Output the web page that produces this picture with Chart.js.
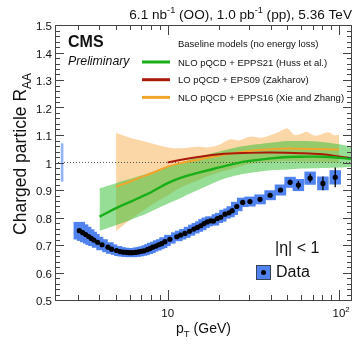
<!DOCTYPE html>
<html>
<head>
<meta charset="utf-8">
<script src="https://cdn.jsdelivr.net/npm/chart.js@4.4.1/dist/chart.umd.min.js"></script>
<style>
  html, body { margin: 0; padding: 0; background: #fff; }
</style>
</head>
<body>
<canvas id="raa" width="358" height="351"></canvas>
<script>
// measured OO charged particle R_AA
const dataPt = [3.05, 3.19, 3.32, 3.46, 3.58, 3.71, 3.9, 4.14, 4.48, 4.71, 5.03, 5.27, 5.51, 5.77, 5.98, 6.2,
  6.48, 6.74, 7.01, 7.27, 7.6, 7.88, 8.17, 8.54, 8.86, 9.22, 9.64, 10.3, 11.3, 11.9, 12.6, 13.4, 14.2, 14.9,
  15.6, 16.3, 17.0, 17.8, 18.5, 19.5, 20.4, 21.6, 22.8, 23.8, 25.3, 27.4, 30.2, 34.6, 39.6, 45.5, 51.8, 57.9,
  67.8, 80.5, 95.0];
const dataRaa = [0.752, 0.745, 0.738, 0.731, 0.724, 0.718, 0.71, 0.701, 0.692, 0.685, 0.68, 0.676, 0.674, 0.673,
  0.672, 0.672, 0.673, 0.675, 0.677, 0.679, 0.683, 0.687, 0.692, 0.696, 0.701, 0.705, 0.712, 0.721, 0.73, 0.736,
  0.742, 0.75, 0.758, 0.764, 0.77, 0.778, 0.784, 0.788, 0.787, 0.796, 0.801, 0.812, 0.817, 0.825, 0.84, 0.855,
  0.858, 0.866, 0.881, 0.9, 0.928, 0.918, 0.943, 0.924, 0.946];
const dataStat = [0.002, 0.002, 0.002, 0.002, 0.002, 0.002, 0.002, 0.002, 0.002, 0.002, 0.002, 0.002, 0.002,
  0.002, 0.002, 0.002, 0.002, 0.002, 0.002, 0.002, 0.002, 0.002, 0.002, 0.002, 0.002, 0.002, 0.002, 0.002, 0.002,
  0.002, 0.002, 0.002, 0.002, 0.002, 0.002, 0.002, 0.002, 0.002, 0.003, 0.003, 0.003, 0.003, 0.003, 0.003, 0.004,
  0.004, 0.005, 0.005, 0.006, 0.008, 0.01, 0.015, 0.016, 0.025, 0.036];
const dataSys = [0.032, 0.03, 0.028, 0.026, 0.024, 0.022, 0.02, 0.02, 0.018, 0.017, 0.016, 0.016, 0.016, 0.016,
  0.016, 0.016, 0.016, 0.016, 0.016, 0.016, 0.016, 0.016, 0.016, 0.016, 0.016, 0.016, 0.016, 0.016, 0.016, 0.016,
  0.016, 0.016, 0.016, 0.016, 0.016, 0.016, 0.016, 0.016, 0.016, 0.016, 0.016, 0.016, 0.016, 0.016, 0.017, 0.017,
  0.018, 0.018, 0.018, 0.02, 0.02, 0.022, 0.024, 0.025, 0.026];
const normPt = 2.42;
const normUnc = 0.07;

// NLO pQCD + EPPS21 (Huss et al.)
const hussPt = [4, 5, 6, 7, 8, 10, 12, 15, 20, 25, 30, 40, 50, 60, 80, 100, 120];
const hussMid = [0.803, 0.834, 0.856, 0.875, 0.892, 0.925, 0.945, 0.962, 0.982, 0.997, 1.006, 1.015, 1.02, 1.021, 1.021, 1.017, 1.012];
const hussLo = [0.752, 0.772, 0.79, 0.806, 0.822, 0.85, 0.872, 0.9, 0.935, 0.953, 0.962, 0.972, 0.975, 0.978, 0.98, 0.982, 0.985];
const hussHi = [0.906, 0.925, 0.94, 0.953, 0.965, 0.985, 1.0, 1.02, 1.04, 1.055, 1.063, 1.072, 1.078, 1.078, 1.075, 1.066, 1.057];

// LO pQCD + EPS09 (Zakharov)
const zakhPt = [10, 12, 15, 20, 30, 40, 60, 80, 100, 120];
const zakhMid = [1.0, 1.01, 1.02, 1.03, 1.035, 1.036, 1.034, 1.03, 1.022, 1.015];

// NLO pQCD + EPPS16 (Xie and Zhang)
const xiePt = [5, 6, 7, 8, 10, 12, 15, 17, 20, 23, 26, 30, 35, 40, 45, 50, 55, 60, 65, 70, 75, 80, 87, 93, 100];
const xieMid = [0.912, 0.93, 0.947, 0.96, 0.985, 0.998, 1.01, 1.017, 1.025, 1.032, 1.037, 1.042, 1.046, 1.048,
  1.05, 1.051, 1.05, 1.05, 1.05, 1.049, 1.049, 1.048, 1.048, 1.047, 1.047];
const xieLo = [0.75, 0.79, 0.82, 0.845, 0.88, 0.91, 0.935, 0.95, 0.965, 0.975, 0.985, 0.995, 1.0, 1.003, 1.005,
  1.005, 1.005, 1.004, 1.004, 1.003, 1.003, 1.002, 1.002, 1.0, 1.0];
const xieHi = [1.108, 1.09, 1.08, 1.07, 1.055, 1.052, 1.057, 1.055, 1.065, 1.084, 1.08, 1.094, 1.09, 1.1, 1.112,
  1.124, 1.1, 1.105, 1.112, 1.1, 1.098, 1.105, 1.11, 1.1, 1.1];

const yTicks = [0.5, 0.6, 0.7, 0.8, 0.9, 1.0, 1.1, 1.2, 1.3, 1.4, 1.5];
const yTickLabels = ['0.5', '0.6', '0.7', '0.8', '0.9', '1', '1.1', '1.2', '1.3', '1.4', '1.5'];
const xTicks = [10, 100];
const xTickLabels = [['10', ''], ['10', '2']];
const xMinorTicks = [3, 4, 5, 6, 7, 8, 9, 20, 30, 40, 50, 60, 70, 80, 90];

const legendNames = ['NLO pQCD + EPPS21 (Huss et al.)', 'LO pQCD + EPS09 (Zakharov)', 'NLO pQCD + EPPS16 (Xie and Zhang)'];

const GREEN = 'rgb(25,175,25)';
const RED = 'rgb(170,25,10)';
const ORANGE = 'rgb(242,165,45)';
const BLUE = 'rgb(80,130,240)';
const FONT = '"Liberation Sans", Arial, Helvetica, sans-serif';

const pts = (xs, ys) => xs.map((x, i) => ({ x: x, y: ys[i] }));

function setFont(ctx, size, style) {
  ctx.font = (style || '') + ' ' + size + 'px ' + FONT;
}

// parts: [text, 0 normal | 1 superscript | -1 subscript]
function richText(ctx, parts, x, y, size, align, style) {
  let w = 0;
  parts.forEach(p => {
    setFont(ctx, p[1] ? size * 0.68 : size, style);
    w += ctx.measureText(p[0]).width;
  });
  let cx = align === 'right' ? x - w : align === 'center' ? x - w / 2 : x;
  ctx.textAlign = 'left';
  ctx.textBaseline = 'alphabetic';
  parts.forEach(p => {
    setFont(ctx, p[1] ? size * 0.68 : size, style);
    const dy = p[1] === 1 ? -size * 0.42 : p[1] === -1 ? size * 0.3 : 0;
    ctx.fillText(p[0], cx, y + dy);
    cx += ctx.measureText(p[0]).width;
  });
}

const decor = {
  id: 'decor',
  beforeDatasetDraw(chart, args) {
    const ctx = chart.ctx, xs = chart.scales.x, ys = chart.scales.y, ca = chart.chartArea;
    if (args.index === 3) {
      // reference line at unity
      ctx.save();
      ctx.strokeStyle = '#555';
      ctx.lineWidth = 1;
      ctx.setLineDash([1, 2]);
      ctx.beginPath();
      ctx.moveTo(ca.left, ys.getPixelForValue(1));
      ctx.lineTo(ca.right, ys.getPixelForValue(1));
      ctx.stroke();
      ctx.restore();
    }
    if (args.index === 0) {
      ctx.save();
      // global normalisation uncertainty
      ctx.fillStyle = 'rgb(150,180,245)';
      const nx = xs.getPixelForValue(normPt);
      ctx.fillRect(nx - 1.3, ys.getPixelForValue(1 + normUnc), 2.6,
        ys.getPixelForValue(1 - normUnc) - ys.getPixelForValue(1 + normUnc));
      // systematic boxes
      ctx.fillStyle = BLUE;
      dataPt.forEach((p, i) => {
        const x0 = xs.getPixelForValue(p / 1.08), x1 = xs.getPixelForValue(p * 1.08);
        const y0 = ys.getPixelForValue(dataRaa[i] + dataSys[i]), y1 = ys.getPixelForValue(dataRaa[i] - dataSys[i]);
        ctx.fillRect(x0, y0, x1 - x0, y1 - y0);
      });
      // statistical error bars
      ctx.strokeStyle = '#000';
      ctx.lineWidth = 1.3;
      dataPt.forEach((p, i) => {
        const x = xs.getPixelForValue(p);
        ctx.beginPath();
        ctx.moveTo(x, ys.getPixelForValue(dataRaa[i] + dataStat[i]));
        ctx.lineTo(x, ys.getPixelForValue(dataRaa[i] - dataStat[i]));
        ctx.stroke();
      });
      ctx.restore();
    }
  },
  afterDraw(chart) {
    const ctx = chart.ctx, xs = chart.scales.x, ys = chart.scales.y, ca = chart.chartArea;
    ctx.save();
    // frame
    ctx.strokeStyle = '#444';
    ctx.lineWidth = 1;
    ctx.strokeRect(ca.left + 0.5, ca.top + 0.5, ca.right - ca.left - 1, ca.bottom - ca.top);
    // y ticks
    ctx.beginPath();
    for (let k = 0; k <= 50; k++) {
      const v = 0.5 + k * 0.02;
      const py = Math.round(ys.getPixelForValue(v)) + 0.5;
      const len = k % 5 === 0 ? 9 : 5;
      ctx.moveTo(ca.left, py); ctx.lineTo(ca.left + len, py);
      ctx.moveTo(ca.right, py); ctx.lineTo(ca.right - len, py);
    }
    // x ticks
    xTicks.concat(xMinorTicks).forEach(v => {
      const px = Math.round(xs.getPixelForValue(v)) + 0.5;
      const len = xTicks.includes(v) ? 10 : 5;
      ctx.moveTo(px, ca.bottom); ctx.lineTo(px, ca.bottom - len);
      ctx.moveTo(px, ca.top); ctx.lineTo(px, ca.top + len);
    });
    ctx.stroke();

    ctx.fillStyle = '#111';
    // y tick labels
    setFont(ctx, 11.5);
    ctx.textAlign = 'right';
    ctx.textBaseline = 'alphabetic';
    yTicks.forEach((v, i) => {
      ctx.fillText(yTickLabels[i], ca.left - 3, ys.getPixelForValue(v) + 5);
    });
    // x tick labels
    xTicks.forEach((v, i) => {
      const lab = xTickLabels[i];
      richText(ctx, lab[1] ? [[lab[0], 0], [lab[1], 1]] : [[lab[0], 0]],
        xs.getPixelForValue(v) + (lab[1] ? 2 : 0), ca.bottom + 17, 11.5, 'center');
    });
    // axis titles
    richText(ctx, [['p', 0], ['T', -1], [' (GeV)', 0]], (ca.left + ca.right) / 2, 333, 14, 'center');
    ctx.save();
    ctx.translate(26, 154);
    ctx.rotate(-Math.PI / 2);
    richText(ctx, [['Charged particle R', 0], ['AA', -1]], 0, 0, 17.5, 'center');
    ctx.restore();

    // header
    richText(ctx, [['6.1 nb', 0], ['-1', 1], [' (OO), 1.0 pb', 0], ['-1', 1], [' (pp), 5.36 TeV', 0]],
      ca.right, 19, 13.6, 'right');
    setFont(ctx, 16, 'bold');
    ctx.textAlign = 'left';
    ctx.fillText('CMS', 68, 47);
    setFont(ctx, 12.3, 'italic');
    ctx.fillText('Preliminary', 68, 65);

    // legend
    setFont(ctx, 9.5);
    ctx.fillText('Baseline models (no energy loss)', 178, 47);
    const lineColors = [GREEN, RED, ORANGE];
    legendNames.forEach((name, i) => {
      const ly = 62 + i * 17.7;
      ctx.strokeStyle = lineColors[i];
      ctx.lineWidth = 3;
      ctx.beginPath();
      ctx.moveTo(142, ly); ctx.lineTo(170, ly);
      ctx.stroke();
      ctx.fillText(name, 178, ly + 3.5);
    });

    // eta label and data legend
    setFont(ctx, 16);
    ctx.fillText('|\u03b7| < 1', 275, 253);
    ctx.fillText('Data', 276, 277);
    ctx.fillStyle = BLUE;
    ctx.fillRect(256, 265, 15, 15);
    ctx.strokeStyle = '#333';
    ctx.lineWidth = 0.8;
    ctx.strokeRect(256.5, 265.5, 14, 14);
    ctx.fillStyle = '#000';
    ctx.beginPath();
    ctx.arc(263.5, 272.5, 2.5, 0, Math.PI * 2);
    ctx.fill();
    ctx.restore();
  }
};

const bandStyle = (color, fill) => ({
  borderWidth: 0, pointRadius: 0, backgroundColor: color, fill: fill, tension: 0.3
});

new Chart(document.getElementById('raa'), {
  type: 'line',
  data: {
    datasets: [
      { label: 'Data', data: pts(dataPt, dataRaa), showLine: false, pointRadius: 2.6,
        pointBackgroundColor: '#000', pointBorderWidth: 0 },
      { label: legendNames[0], data: pts(hussPt, hussMid), borderColor: GREEN, borderWidth: 2.4,
        pointRadius: 0, fill: false, tension: 0.4 },
      { label: legendNames[1], data: pts(zakhPt, zakhMid), borderColor: RED, borderWidth: 2,
        pointRadius: 0, fill: false, tension: 0.4 },
      { label: legendNames[2], data: pts(xiePt, xieMid), borderColor: ORANGE, borderWidth: 2,
        pointRadius: 0, fill: false, tension: 0.4 },
      Object.assign({ label: 'hussHi', data: pts(hussPt, hussHi) }, bandStyle('rgba(45,190,45,0.5)', '+1')),
      Object.assign({ label: 'hussLo', data: pts(hussPt, hussLo) }, bandStyle('rgba(0,0,0,0)', false)),
      Object.assign({ label: 'xieHi', data: pts(xiePt, xieHi) }, bandStyle('rgba(247,175,80,0.5)', '+1')),
      Object.assign({ label: 'xieLo', data: pts(xiePt, xieLo) }, bandStyle('rgba(0,0,0,0)', false))
    ]
  },
  options: {
    responsive: false,
    devicePixelRatio: 1,
    animation: false,
    layout: { padding: { left: 55, top: 25, right: 6, bottom: 51 } },
    plugins: { legend: { display: false }, tooltip: { enabled: false } },
    scales: {
      x: { type: 'logarithmic', min: 2.2, max: 119, display: false },
      y: { type: 'linear', min: 0.5, max: 1.5, display: false }
    }
  },
  plugins: [decor]
});
</script>
</body>
</html>
